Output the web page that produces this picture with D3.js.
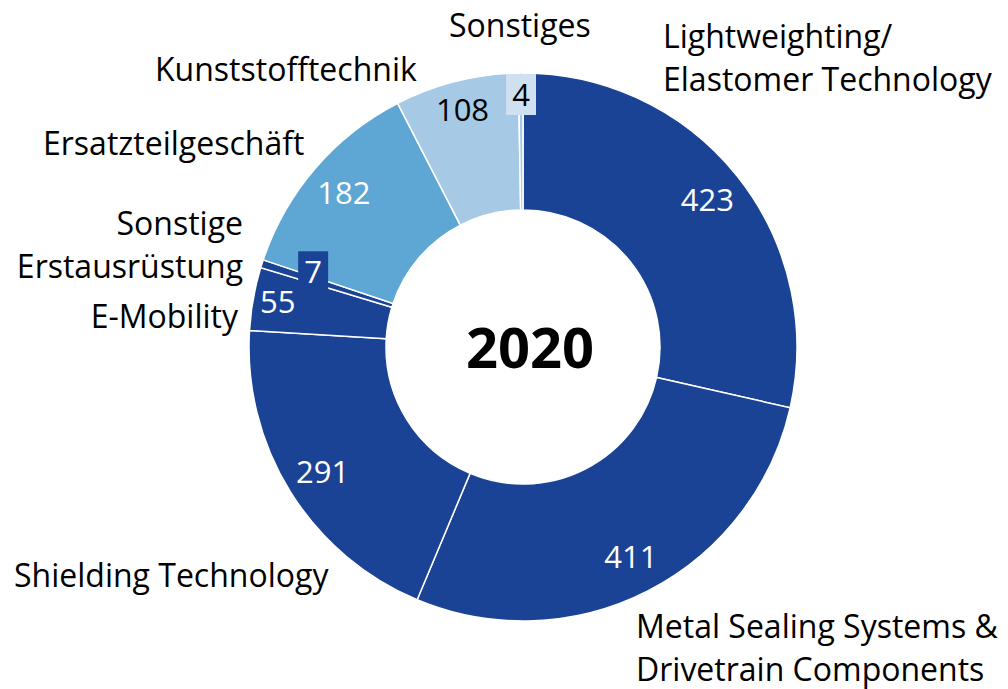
<!DOCTYPE html>
<html>
<head>
	<meta charset="utf-8">
	<title>Umsatz nach Segmenten 2020</title>
	<script src="https://d3js.org/d3.v7.min.js"></script>
	<style>
		body { margin: 0; background: #fff; }
		text { font-family: "Open Sans", Lato, sans-serif; }
	</style>
</head>
<body>
	<script type="text/javascript">
		// Segment names (clockwise from 12 o'clock) and their values
		var categories = ["Lightweighting/\nElastomer Technology", "Metal Sealing Systems &\nDrivetrain Components",
			"Shielding Technology", "E-Mobility", "Sonstige\nErstausrüstung", "Ersatzteilgeschäft",
			"Kunststofftechnik", "Sonstiges"];
		var values = [423, 411, 291, 55, 7, 182, 108, 4];
		var year = "2020";

		var colors = ["#1a4396", "#1a4396", "#1a4396", "#1a4396", "#1a4396", "#5ea7d5", "#a6c9e5", "#a6c9e5"];
		var valueColors = ["#fff", "#fff", "#fff", "#fff", "#fff", "#fff", "#000", "#000"];
		// boxes behind the tiny-slice values
		var boxFill = [null, null, null, null, "#1a4396", null, null, "#cfe0f1"];
		// small nudges Excel applied to crowded value labels
		var valueNudge = [[0, 0], [0, 0], [0, 0], [-13, -4], [15, -3], [0, 0], [-3, -8], [0, -16]];

		// where the category names sit, [x, y of first baseline, anchor]
		var namePos = [[663, 48, "start"], [636, 638, "start"], [14, 587, "start"], [238, 328, "end"],
			[243, 235, "end"], [43, 155, "start"], [155, 81, "start"], [449, 37, "start"]];

		var width = 1008, height = 689;
		var cx = 523, cy = 347;
		var outerR = 274, innerR = 137;

		var svg = d3.select("body").append("svg")
			.attr("width", width)
			.attr("height", height);

		var pie = d3.pie().sort(null).value(function(d) { return d; });
		var arcs = pie(values);

		var arc = d3.arc().innerRadius(innerR).outerRadius(outerR);
		var labelArc = d3.arc().innerRadius(236).outerRadius(236);

		var g = svg.append("g").attr("transform", "translate(" + cx + "," + cy + ")");

		g.selectAll("path")
			.data(arcs)
			.enter()
			.append("path")
			.attr("d", arc)
			.attr("fill", function(d, i) { return colors[i]; })
			.attr("stroke", "#fff")
			.attr("stroke-width", 1.5);

		// value labels
		var vl = g.selectAll("g.val")
			.data(arcs)
			.enter()
			.append("g")
			.attr("class", "val")
			.attr("transform", function(d, i) {
				var c = labelArc.centroid(d);
				return "translate(" + (c[0] + valueNudge[i][0]) + "," + (c[1] + valueNudge[i][1]) + ")";
			});

		vl.filter(function(d, i) { return boxFill[i]; })
			.append("rect")
			.attr("x", -15)
			.attr("y", -21)
			.attr("width", 30)
			.attr("height", 41)
			.attr("fill", function(d) { return boxFill[d.index]; });

		vl.append("text")
			.attr("text-anchor", "middle")
			.attr("dy", "0.36em")
			.attr("font-size", 31)
			.attr("fill", function(d) { return valueColors[d.index]; })
			.text(function(d) { return d.data; });

		// category names
		categories.forEach(function(name, i) {
			var p = namePos[i];
			var t = svg.append("text")
				.attr("x", p[0])
				.attr("y", p[1])
				.attr("text-anchor", p[2])
				.attr("font-size", 32)
				.attr("fill", "#000");
			name.split("\n").forEach(function(line, j) {
				t.append("tspan")
					.attr("x", p[0])
					.attr("dy", j === 0 ? 0 : 43)
					.text(line);
			});
		});

		// year in the hole
		svg.append("text")
			.attr("x", cx + 7)
			.attr("y", 368)
			.attr("text-anchor", "middle")
			.attr("font-family", "Lato, sans-serif")
			.attr("font-size", 56)
			.attr("font-weight", "bold")
			.text(year);
	</script>
</body>
</html>
